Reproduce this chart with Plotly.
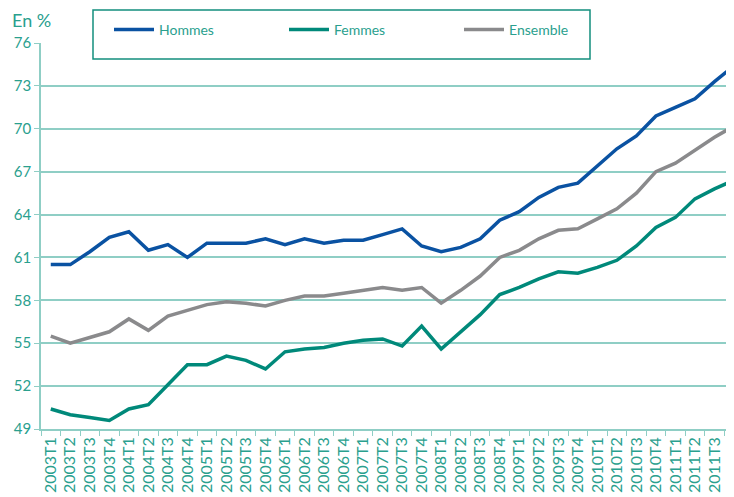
import plotly.graph_objects as go

quarters = [f"{y}T{q}" for y in range(2003, 2012) for q in range(1, 5)]

hommes = [60.5, 60.5, 61.4, 62.4, 62.8, 61.5, 61.9, 61.0,
          62.0, 62.0, 62.0, 62.3, 61.9, 62.3, 62.0, 62.2,
          62.2, 62.6, 63.0, 61.8, 61.4, 61.7, 62.3, 63.6,
          64.2, 65.2, 65.9, 66.2, 67.4, 68.6, 69.5, 70.9,
          71.5, 72.1, 73.3, 74.4]
femmes = [50.4, 50.0, 49.8, 49.6, 50.4, 50.7, 52.1, 53.5,
          53.5, 54.1, 53.8, 53.2, 54.4, 54.6, 54.7, 55.0,
          55.2, 55.3, 54.8, 56.2, 54.6, 55.8, 57.0, 58.4,
          58.9, 59.5, 60.0, 59.9, 60.3, 60.8, 61.8, 63.1,
          63.8, 65.1, 65.8, 66.4]
ensemble = [55.5, 55.0, 55.4, 55.8, 56.7, 55.9, 56.9, 57.3,
            57.7, 57.9, 57.8, 57.6, 58.0, 58.3, 58.3, 58.5,
            58.7, 58.9, 58.7, 58.9, 57.8, 58.7, 59.7, 61.0,
            61.5, 62.3, 62.9, 63.0, 63.7, 64.4, 65.5, 67.0,
            67.6, 68.5, 69.4, 70.2]
y_ticks = [49, 52, 55, 58, 61, 64, 67, 70, 73, 76]

TEAL_TXT = "#2aa08e"
GRID = "#8fcec5"
FONT = "Lato"
OFF = 8  # page body margin
W, H = 734 - OFF, 497 - OFF

fig = go.Figure()
series = [("Hommes", hommes, "#0a52a2", "legend", 137),
          ("Femmes", femmes, "#00897a", "legend2", 312),
          ("Ensemble", ensemble, "#8a8a8c", "legend3", 487)]
legends = {}
for name, vals, col, lg, cx in series:
    fig.add_trace(go.Scatter(x=quarters, y=vals, name=name, mode="lines",
                             legend=lg, line=dict(color=col, width=3.5)))
    legends[lg] = dict(orientation="h", xref="container", yref="container",
                       x=(cx - OFF - 28) / W, xanchor="left",
                       y=1 - (30 - OFF) / H, yanchor="middle",
                       bgcolor="rgba(0,0,0,0)", borderwidth=0,
                       font=dict(size=14, color=TEAL_TXT, family=FONT),
                       itemwidth=40)

fig.update_layout(
    width=W, height=H,
    margin=dict(l=41 - OFF, r=0, t=43 - OFF, b=68, autoexpand=False),
    paper_bgcolor="white", plot_bgcolor="white",
    font=dict(family=FONT, color=TEAL_TXT, size=14),
    showlegend=True,
    **legends,
    xaxis=dict(type="category", range=[-0.5, 35.0], tickangle=-90,
               showgrid=False, showline=True, linecolor=GRID, linewidth=1.5,
               ticks="outside", tickson="boundaries", ticklen=5, tickcolor=GRID,
               automargin=False,
               tickfont=dict(size=16, color=TEAL_TXT, family=FONT)),
    yaxis=dict(range=[49, 76], tickvals=y_ticks, showgrid=True, gridcolor=GRID,
               gridwidth=1.5, showline=True, linecolor=GRID, linewidth=1.5,
               ticks="outside", ticklen=5, tickcolor=GRID, zeroline=False,
               automargin=False,
               tickfont=dict(size=15, color=TEAL_TXT, family=FONT)),
    shapes=[dict(type="rect", xref="paper", yref="paper",
                 x0=(93 - 41) / 693, x1=(590 - 41) / 693,
                 y0=1 - (59 - 43) / 386, y1=1 + (43 - 10) / 386,
                 line=dict(color="#138f7d", width=1.5), fillcolor="white",
                 layer="above")],
    annotations=[dict(text="En %", xref="paper", yref="paper",
                      x=(10 - 41) / 693, y=1 + (43 - 20) / 386,
                      xanchor="left", yanchor="middle", showarrow=False,
                      font=dict(size=18, color=TEAL_TXT, family=FONT))],
)

fig.write_html("out.html")
